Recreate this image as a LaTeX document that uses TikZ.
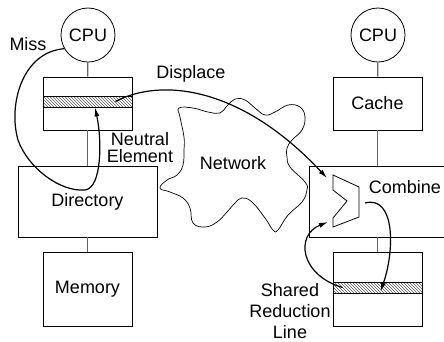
\documentclass[tikz,border=0pt]{standalone}
\usepackage{fontspec}
\setmainfont{Liberation Sans}
\usetikzlibrary{fit,patterns,arrows.meta}

\begin{document}
\begin{tikzpicture}[x=1pt, y=-1pt, font=\fontsize{18}{21}\selectfont,
        box/.style={draw, inner sep=0pt, line width=0.8pt},
        cpu/.style={draw, circle, minimum size=54pt, inner sep=0pt, line width=0.8pt},
        strip/.style={draw, inner sep=0pt, line width=0.8pt, pattern=north west lines, pattern color=black!65},
        link/.style={draw=black!60, line width=1.2pt},
        flow/.style={-{Latex[length=9pt,width=5pt]}, line width=1.2pt}]
        \path[use as bounding box, clip] (0,0) rectangle (444,341);

        \node[cpu] (cpuA) at (88,35) {CPU};
        \node[box, fit={(43,77) (132,130)}] (cacheA) {};
        \node[strip, fit={(43,96) (132,107)}] (lineA) {};
        \node[box, fit={(18,166) (157,237)}, label=center:Directory] (dir) {};
        \node[box, fit={(43,252) (132,326)}, label=center:Memory] (mem) {};

        \node[cpu] (cpuB) at (378,35) {CPU};
        \node[box, fit={(333,77) (422,130)}, label=center:Cache] (cacheB) {};
        \node[box, fit={(309,166) (460,237)}] (comb) {};
        \node[box, fit={(333,252) (422,326)}] (shared) {};
        \node[strip, fit={(333,282) (422,293)}] (lineB) {};

        \draw[link] (cpuA) -- (cacheA);
        \draw[link] (cacheA) -- (dir);
        \draw[link] (dir) -- (mem);
        \draw[link] (cpuB) -- (cacheB);
        \draw[link] (cacheB.south) -- (cacheB.south |- comb.north);
        \draw[link] (shared.north) -- (shared.north |- comb.south);

        \draw[line width=0.8pt] (333,175) -- (359,187) -- (359,217) -- (333,227) -- (333,218) -- (347,201) -- (333,190) -- cycle;
        \coordinate (inTop) at (327,178);
        \coordinate (inBot) at (328,222);
        \coordinate (out) at (365,203);

        \draw[line width=0.7pt] plot[smooth cycle, tension=0.7] coordinates {
            (183,165) (184,150) (184,137) (180,117) (179,108) (193,108) (208,112) (220,113)
            (227,106) (235,99) (245,100) (255,108) (265,115) (275,112) (288,105) (300,107)
            (305,117) (302,130) (292,140) (287,148) (287,157) (290,167) (305,182) (307,190)
            (302,202) (288,215) (278,230) (273,230) (265,218) (252,202) (242,198) (235,203)
            (227,212) (217,222) (205,227) (193,223) (190,208) (183,198) (170,192) (160,188)
            (167,180) (177,175)};

        \node (net) at (233,163) {Network};
        \node (miss) at (28,44) {Miss};
        \node (displace) at (191,74) {Displace};
        \node[align=center, font=\fontsize{18}{17}\selectfont] (neutral) at (140,148) {Neutral\\Element};
        \node (combine) at (405,187) {Combine};
        \node[align=center] (srl) at (290,311) {Shared\\Reduction\\Line};

        \draw[flow] (cpuA.210) .. controls (22,52) and (8,105) .. (18,140)
            .. controls (28,168) and (60,192) .. (85,190)
            .. controls (102,188) and (102,140) .. ([xshift=7.5pt]lineA.south);
        \draw[flow] ([xshift=28pt]lineA.center) .. controls (160,78) and (240,85) .. (inTop);
        \draw[flow] (out) .. controls (395,195) and (395,250) .. ([xshift=3pt,yshift=2pt]lineB.south);
        \draw[flow] ([xshift=-35pt]lineB.center) .. controls (300,275) and (295,235) .. (inBot);
    \end{tikzpicture}
\end{document}
